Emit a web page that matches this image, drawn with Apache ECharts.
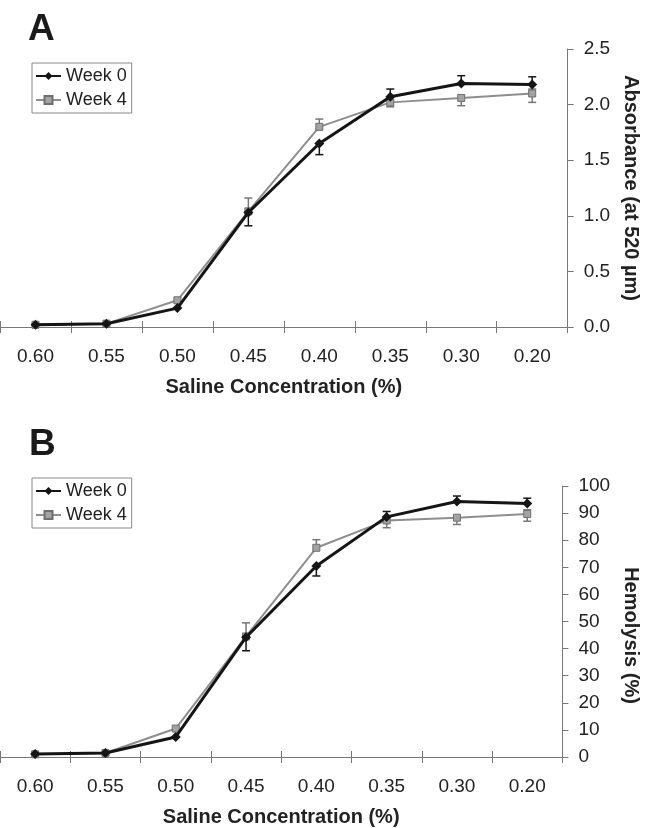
<!DOCTYPE html>
<html>
<head>
<meta charset="utf-8">
<script src="https://cdn.jsdelivr.net/npm/echarts@6/dist/echarts.min.js"></script>
<style>
  html, body { margin: 0; padding: 0; background: #fff; }
  #chart { width: 649px; height: 828px; }
</style>
</head>
<body>
<div id="chart"></div>
<script>
// x categories (saline concentration, %)
var concentrations = ['0.60', '0.55', '0.50', '0.45', '0.40', '0.35', '0.30', '0.20'];

// panel A - absorbance
var absWeek0 = [0.02, 0.03, 0.17, 1.03, 1.65, 2.07, 2.19, 2.18];
var absWeek0Up = [0, 0, 0, 0, 0, 0.07, 0.07, 0.07];
var absWeek0Down = [0, 0, 0, 0.12, 0.10, 0, 0, 0];
var absWeek4 = [0.02, 0.03, 0.24, 1.04, 1.80, 2.02, 2.06, 2.10];
var absWeek4Up = [0, 0, 0, 0.12, 0.07, 0, 0, 0.04];
var absWeek4Down = [0, 0, 0, 0, 0, 0.04, 0.07, 0.08];
var absTicks = [0, 0.5, 1.0, 1.5, 2.0, 2.5];

// panel B - hemolysis
var hemWeek0 = [1.1, 1.5, 7.4, 44.2, 70.5, 88.6, 94.3, 93.5];
var hemWeek0Up = [0, 0, 0, 0, 0, 2, 2, 2];
var hemWeek0Down = [0, 0, 0, 5, 3.7, 0, 0, 0];
var hemWeek4 = [1.0, 1.5, 10.5, 44.5, 77.2, 87.3, 88.3, 89.7];
var hemWeek4Up = [0, 0, 0, 5, 3, 0, 0, 1.5];
var hemWeek4Down = [0, 0, 0, 0, 0, 2.7, 2.5, 2.7];
var hemTicks = [0, 10, 20, 30, 40, 50, 60, 70, 80, 90, 100];

var FONT = "'Liberation Sans', Arial, sans-serif";
var AXIS_COLOR = '#777';
var BLACK = '#151515';
var GREY = '#8e8e8e';

// error bars drawn with a custom series
function errorBars(name, xIdx, yIdx, vals, up, down, color) {
  var data = vals.map(function (v, i) {
    return [i, v, v - down[i], v + up[i]];
  });
  return {
    type: 'custom',
    name: name,
    xAxisIndex: xIdx,
    yAxisIndex: yIdx,
    silent: true,
    z: 1,
    data: data,
    renderItem: function (params, api) {
      var p = api.coord([api.value(0), api.value(1)]);
      var lo = api.coord([api.value(0), api.value(2)]);
      var hi = api.coord([api.value(0), api.value(3)]);
      var st = { stroke: color, lineWidth: 1.5 };
      var w = 4;
      var kids = [];
      if (hi[1] < p[1] - 0.5) {
        kids.push({ type: 'line', shape: { x1: p[0], y1: p[1], x2: hi[0], y2: hi[1] }, style: st });
        kids.push({ type: 'line', shape: { x1: hi[0] - w, y1: hi[1], x2: hi[0] + w, y2: hi[1] }, style: st });
      }
      if (lo[1] > p[1] + 0.5) {
        kids.push({ type: 'line', shape: { x1: p[0], y1: p[1], x2: lo[0], y2: lo[1] }, style: st });
        kids.push({ type: 'line', shape: { x1: lo[0] - w, y1: lo[1], x2: lo[0] + w, y2: lo[1] }, style: st });
      }
      return { type: 'group', children: kids };
    }
  };
}

function week0Line(xIdx, yIdx, vals) {
  return {
    type: 'line', name: 'Week 0', xAxisIndex: xIdx, yAxisIndex: yIdx, z: 4,
    data: vals, symbol: 'diamond', symbolSize: 10,
    lineStyle: { color: BLACK, width: 3 },
    itemStyle: { color: BLACK }
  };
}

function week4Line(xIdx, yIdx, vals) {
  return {
    type: 'line', name: 'Week 4', xAxisIndex: xIdx, yAxisIndex: yIdx, z: 3,
    data: vals, symbol: 'rect', symbolSize: 7,
    lineStyle: { color: GREY, width: 2 },
    itemStyle: { color: '#a3a3a3', borderColor: '#6e6e6e', borderWidth: 1 }
  };
}

function mainX(gridIdx) {
  return {
    type: 'category', gridIndex: gridIdx, data: concentrations, boundaryGap: true,
    position: 'bottom',
    axisLine: { lineStyle: { color: AXIS_COLOR, width: 1 } },
    axisTick: { show: true, length: 6, lineStyle: { color: AXIS_COLOR } },
    axisLabel: { fontSize: 19, color: '#222', fontFamily: FONT, margin: 20 },
    name: 'Saline Concentration (%)', nameLocation: 'middle', nameGap: 50,
    nameTextStyle: { fontSize: 20, fontWeight: 'bold', color: '#222', fontFamily: FONT }
  };
}

// second axis only for the inner half of the crossing ticks
function innerX(gridIdx) {
  return {
    type: 'category', gridIndex: gridIdx, data: concentrations, boundaryGap: true,
    position: 'bottom',
    axisLine: { show: false },
    axisTick: { show: true, inside: true, length: 6, lineStyle: { color: AXIS_COLOR } },
    axisLabel: { show: false }
  };
}

function valueY(gridIdx, ticks, digits, title, gap, pad) {
  return {
    type: 'value', gridIndex: gridIdx, position: 'right',
    min: ticks[0], max: ticks[ticks.length - 1], interval: ticks[1] - ticks[0],
    splitLine: { show: false },
    axisLine: { show: true, lineStyle: { color: AXIS_COLOR, width: 1 } },
    axisTick: { show: true, length: 6, lineStyle: { color: AXIS_COLOR } },
    axisLabel: {
      fontSize: 19, color: '#222', fontFamily: FONT, margin: 16,
      formatter: function (v) { return v.toFixed(digits); }
    },
    name: title, nameLocation: 'middle', nameRotate: -90, nameGap: gap,
    nameTextStyle: { fontSize: 20, fontWeight: 'bold', color: '#222', fontFamily: FONT, padding: pad }
  };
}

function legendAt(top) {
  return {
    data: ['Week 0', 'Week 4'], orient: 'vertical', left: 32, top: top,
    itemWidth: 25, itemHeight: 10, itemGap: 6,
    padding: [4, 5, 4, 3],
    borderColor: '#888', borderWidth: 1,
    textStyle: { fontSize: 18, color: '#222', fontFamily: FONT }
  };
}

var chart = echarts.init(document.getElementById('chart'));
chart.setOption({
  backgroundColor: '#fff',
  animation: false,
  title: [
    { text: 'A', left: 28, top: 11, padding: 0, textStyle: { fontSize: 37, fontWeight: 'bold', color: '#1a1a1a', fontFamily: FONT } },
    { text: 'B', left: 29, top: 426, padding: 0, textStyle: { fontSize: 37, fontWeight: 'bold', color: '#1a1a1a', fontFamily: FONT } }
  ],
  legend: [legendAt(63), legendAt(478)],
  grid: [
    { left: 0, right: 81, top: 49, height: 278 },
    { left: 0, right: 86, top: 486, height: 271 }
  ],
  xAxis: [mainX(0), innerX(0), mainX(1), innerX(1)],
  yAxis: [
    valueY(0, absTicks, 1, 'Absorbance (at 520 \u00b5m)', 53, 0),
    valueY(1, hemTicks, 0, 'Hemolysis (%)', 58, [0, 0, 0, 28])
  ],
  series: [
    errorBars('errA0', 0, 0, absWeek0, absWeek0Up, absWeek0Down, BLACK),
    errorBars('errA4', 0, 0, absWeek4, absWeek4Up, absWeek4Down, '#777'),
    week4Line(0, 0, absWeek4),
    week0Line(0, 0, absWeek0),
    errorBars('errB0', 2, 1, hemWeek0, hemWeek0Up, hemWeek0Down, BLACK),
    errorBars('errB4', 2, 1, hemWeek4, hemWeek4Up, hemWeek4Down, '#777'),
    week4Line(2, 1, hemWeek4),
    week0Line(2, 1, hemWeek0)
  ]
});
</script>
</body>
</html>
